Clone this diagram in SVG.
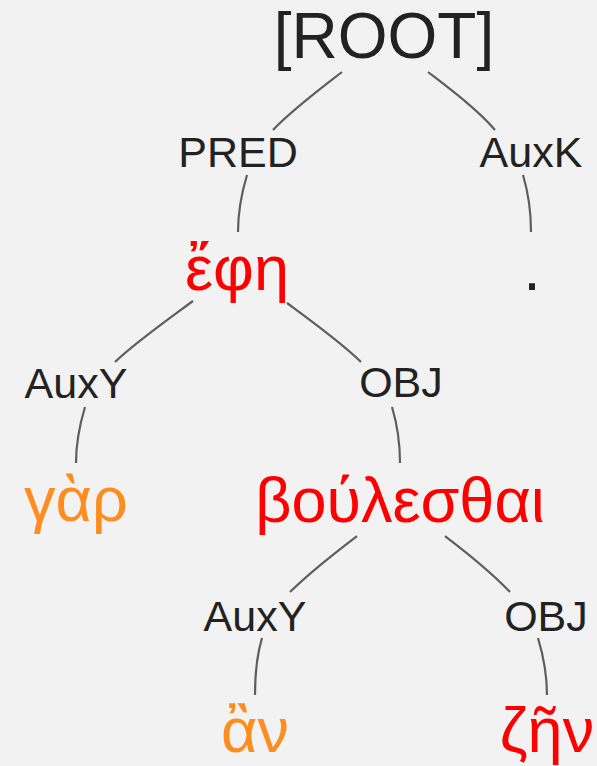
<svg xmlns="http://www.w3.org/2000/svg" width="597" height="766" viewBox="0 0 597 766">
<style>
text{font-family:"Liberation Sans",Arial,"DejaVu Sans",sans-serif;text-anchor:middle}
.root{font-size:64px;fill:#222}
.lbl{font-size:43px;fill:#222}
.w{font-size:63px}
.red{fill:#ff0000}
.org{fill:#ff8c1e}
.dk{fill:#222}
.e path{fill:none;stroke:#5e5e5e;stroke-width:2.2}
</style>
<rect width="597" height="766" fill="#f2f2f2"/>
<g class="e" id="connectors">
<path d="M342,72 C320,89 292,110 273,130"/>
<path d="M428,72 C450,89 478,110 495,130"/>
<path d="M247,175 C241,195 238,212 238,232"/>
<path d="M523,175 C529,195 531,212 531,232"/>
<path d="M193,301 C170,318 136,342 115,362"/>
<path d="M287,303 C310,320 342,343 361,362"/>
<path d="M85,407 C79,427 76,445 76,463"/>
<path d="M392,407 C398,427 400,445 400,463"/>
<path d="M357,536 C336,552 308,574 290,592"/>
<path d="M445,536 C466,552 494,575 510,592"/>
<path d="M262,638 C256,658 255,676 255,695"/>
<path d="M538,638 C544,658 547,676 547,695"/>
</g>
<g id="root"><text class="root" x="384" y="58">[ROOT]</text></g>
<g id="pred"><text class="lbl" x="238" y="167">PRED</text></g>
<g id="auxk"><text class="lbl" x="531" y="167">AuxK</text></g>
<g id="ephe"><text class="w red" x="237" y="290">ἔφη</text></g>
<g id="period"><text class="w dk" x="532" y="290">.</text></g>
<g id="auxy1"><text class="lbl" x="76" y="398">AuxY</text></g>
<g id="obj1"><text class="lbl" x="401" y="397">OBJ</text></g>
<g id="gar"><text class="w org" x="76" y="521">γὰρ</text></g>
<g id="boulesthai"><text class="w red" x="400" y="522">βούλεσθαι</text></g>
<g id="auxy2"><text class="lbl" x="255" y="631">AuxY</text></g>
<g id="obj2"><text class="lbl" x="546" y="631">OBJ</text></g>
<g id="an"><text class="w org" x="255" y="752">ἂν</text></g>
<g id="zen"><text class="w red" x="547" y="752">ζῆν</text></g>
</svg>
